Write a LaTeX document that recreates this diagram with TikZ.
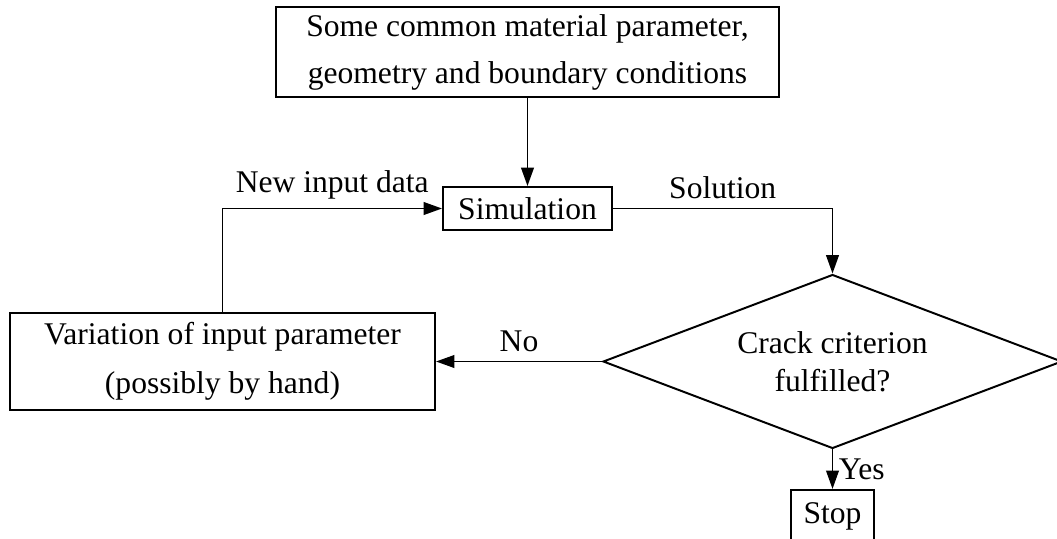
\documentclass[tikz,border=0pt]{standalone}
\usepackage{fontspec}
\setmainfont{Liberation Serif}
\usepackage{tikz}
\usetikzlibrary{shapes.geometric, arrows.meta}

\begin{document}
\begin{tikzpicture}[x=38pt, y=38pt, line width=0.75pt,
                font=\fontsize{12}{14.5}\selectfont,
                box/.style={draw, rectangle, align=center, inner sep=0pt},
                test/.style={draw, diamond, align=center, inner sep=0pt, aspect=2.6,
                    minimum width=174.4pt, minimum height=66.1pt},
                flow/.style={-{Triangle[length=7pt, width=4.8pt]}}]
                \useasboundingbox (0,0) rectangle (10.57,5.38);
                \node[box, minimum width=191.5pt, minimum height=34.2pt] (common) at (5.275,4.86)
                    {Some common material parameter,\\[3.4pt] geometry and boundary conditions};
                \node[box, minimum width=64.2pt, minimum height=16.3pt] (sim) at (5.275,3.295) {Simulation};
                \node[test] (crack) at (8.325,1.765) {Crack criterion\\ fulfilled?};
                \node[box, minimum width=161.5pt, minimum height=37.2pt] (var) at (2.225,1.765)
                    {Variation of input parameter\\[4pt] (possibly by hand)};
                \node[box, minimum width=31.5pt, minimum height=19.8pt] (stop) at (8.325,0.22) {Stop};
                \draw[flow] (common.south) -- (sim.north);
                \draw[flow] (sim.east) -| node[pos=0.25, above] {Solution} (crack.north);
                \draw[flow] (crack.west) -- node[above] {No} (var.east);
                \draw[flow] (var.north) |- node[pos=0.75, above] {New input data} (sim.west);
                \draw[flow] (crack.south) -- node[right, inner sep=2pt] {Yes} (stop.north);
            \end{tikzpicture}
\end{document}
